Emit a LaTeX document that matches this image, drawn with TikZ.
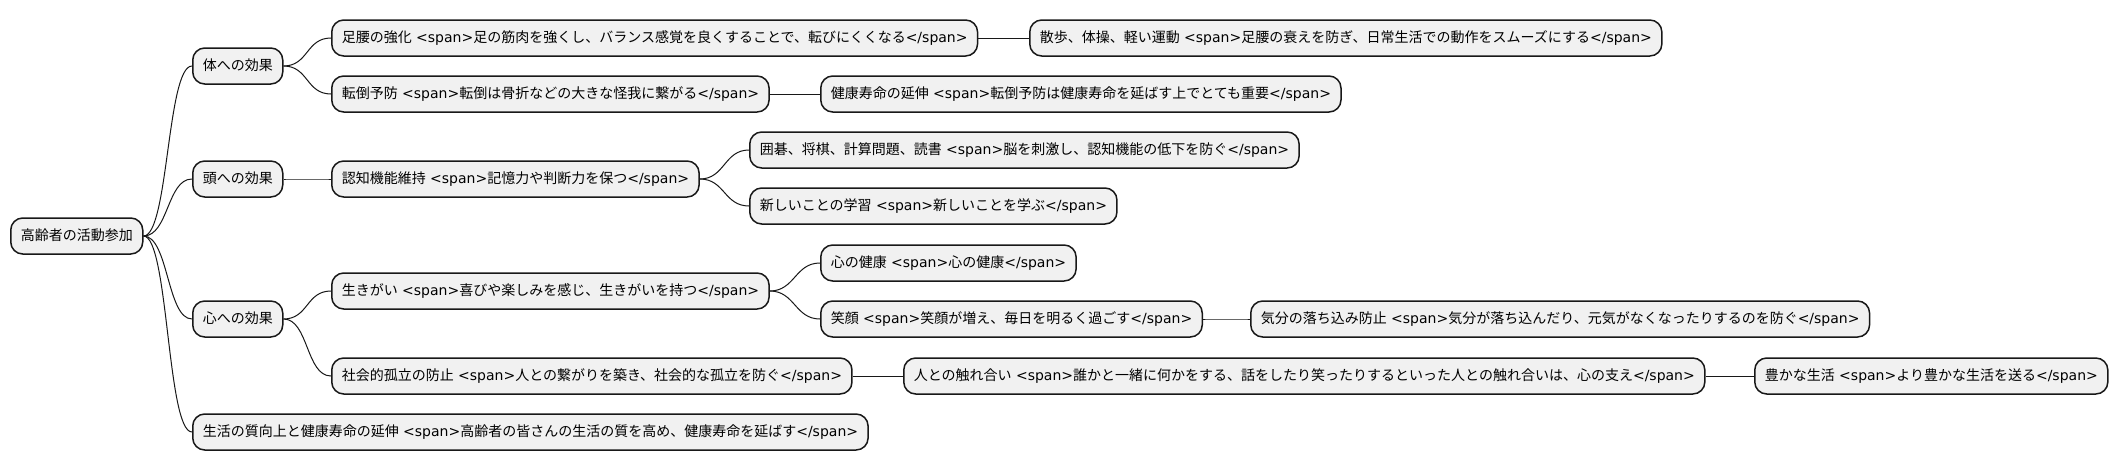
\documentclass[tikz,border=0pt]{standalone}
\usepackage{fontspec}
\setmainfont{Noto Sans CJK JP}
\newfontfamily\dejavu{DejaVu Sans}
\newcommand{\spo}{{\dejavu\ <span>}}
\newcommand{\spc}{{\dejavu </span>}}
\definecolor{boxfill}{HTML}{F1F1F1}
\definecolor{boxline}{HTML}{181818}

\begin{document}
\begin{tikzpicture}[
		x=1pt, y=-1pt,
		every node/.style={rectangle, rounded corners=12pt, draw=boxline, fill=boxfill, line width=1.5pt,
			minimum height=36pt, inner xsep=10pt, inner ysep=0pt, anchor=west,
			text height=11pt, text depth=3pt, font=\fontsize{14}{17}\selectfont},
		branch/.style={draw=boxline, line width=1pt}
	]
  \useasboundingbox (0,0) rectangle (2119,471);
  % root and first level
  \node (root) at (10,236) {高齢者の活動参加};
  \node (body) at (192,66) {体への効果};
  \node (head) at (192,179) {頭への効果};
  \node (mind) at (192,319) {心への効果};
  \node (life) at (192,432) {生活の質向上と健康寿命の延伸\spo{}高齢者の皆さんの生活の質を高め、健康寿命を延ばす\spc};
  % second level
  \node (legs) at (331,38) {足腰の強化\spo{}足の筋肉を強くし、バランス感覚を良くすることで、転びにくくなる\spc};
  \node (fall) at (331,94) {転倒予防\spo{}転倒は骨折などの大きな怪我に繋がる\spc};
  \node (cog) at (331,179) {認知機能維持\spo{}記憶力や判断力を保つ\spc};
  \node (ikigai) at (331,291) {生きがい\spo{}喜びや楽しみを感じ、生きがいを持つ\spc};
  \node (social) at (331,376) {社会的孤立の防止\spo{}人との繋がりを築き、社会的な孤立を防ぐ\spc};
  % third level
  \node (walk) at (1029,38) {散歩、体操、軽い運動\spo{}足腰の衰えを防ぎ、日常生活での動作をスムーズにする\spc};
  \node (healthy) at (820,94) {健康寿命の延伸\spo{}転倒予防は健康寿命を延ばす上でとても重要\spc};
  \node (games) at (749,150) {囲碁、将棋、計算問題、読書\spo{}脳を刺激し、認知機能の低下を防ぐ\spc};
  \node (learn) at (749,206) {新しいことの学習\spo{}新しいことを学ぶ\spc};
  \node (heart) at (820,263) {心の健康\spo{}心の健康\spc};
  \node (smile) at (820,319) {笑顔\spo{}笑顔が増え、毎日を明るく過ごす\spc};
  \node (touch) at (903,376) {人との触れ合い\spo{}誰かと一緒に何かをする、話をしたり笑ったりするといった人との触れ合いは、心の支え\spc};
  % fourth level
  \node (mood) at (1250,319) {気分の落ち込み防止\spo{}気分が落ち込んだり、元気がなくなったりするのを防ぐ\spc};
  \node (rich) at (1754,376) {豊かな生活\spo{}より豊かな生活を送る\spc};
  % connectors
  \draw[branch] (root.east) .. controls +(25,0) and +(-25,0) .. (body.west);
  \draw[branch] (root.east) .. controls +(25,0) and +(-25,0) .. (head.west);
  \draw[branch] (root.east) .. controls +(25,0) and +(-25,0) .. (mind.west);
  \draw[branch] (root.east) .. controls +(25,0) and +(-25,0) .. (life.west);
  \draw[branch] (body.east) .. controls +(25,0) and +(-25,0) .. (legs.west);
  \draw[branch] (body.east) .. controls +(25,0) and +(-25,0) .. (fall.west);
  \draw[branch] (head.east) .. controls +(25,0) and +(-25,0) .. (cog.west);
  \draw[branch] (mind.east) .. controls +(25,0) and +(-25,0) .. (ikigai.west);
  \draw[branch] (mind.east) .. controls +(25,0) and +(-25,0) .. (social.west);
  \draw[branch] (legs.east) .. controls +(25,0) and +(-25,0) .. (walk.west);
  \draw[branch] (fall.east) .. controls +(25,0) and +(-25,0) .. (healthy.west);
  \draw[branch] (cog.east) .. controls +(25,0) and +(-25,0) .. (games.west);
  \draw[branch] (cog.east) .. controls +(25,0) and +(-25,0) .. (learn.west);
  \draw[branch] (ikigai.east) .. controls +(25,0) and +(-25,0) .. (heart.west);
  \draw[branch] (ikigai.east) .. controls +(25,0) and +(-25,0) .. (smile.west);
  \draw[branch] (smile.east) .. controls +(25,0) and +(-25,0) .. (mood.west);
  \draw[branch] (social.east) .. controls +(25,0) and +(-25,0) .. (touch.west);
  \draw[branch] (touch.east) .. controls +(25,0) and +(-25,0) .. (rich.west);
\end{tikzpicture}
\end{document}
